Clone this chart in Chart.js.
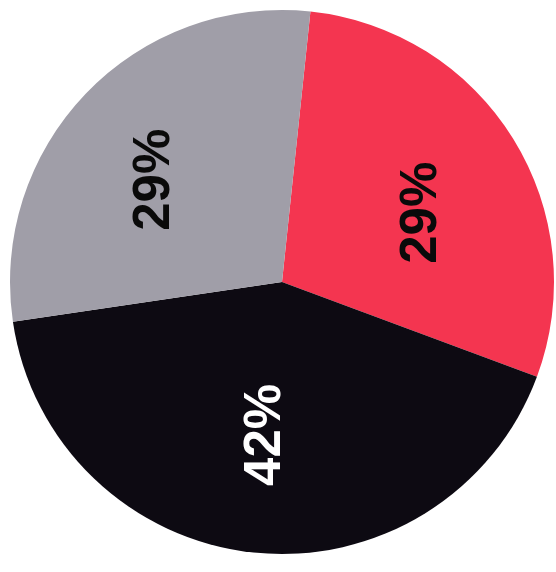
<!DOCTYPE html>
<html>
<head>
<meta charset="utf-8">
<script src="https://cdn.jsdelivr.net/npm/chart.js@4.4.1/dist/chart.umd.min.js"></script>
<style>
  body { margin: 0; background: #fff; }
  canvas { display: block; }
</style>
</head>
<body>
<canvas id="grafico" width="556" height="572"></canvas>
<script>
// dados
const categorias = ['Vermelho', 'Preto', 'Cinza'];
const valores = [29, 42, 29];
const rotulos = ['29%', '42%', '29%'];
const cores = ['#f43550', '#0d0a12', '#a09ea8'];
const coresTexto = ['#0a0a0a', '#ffffff', '#0a0a0a'];

// posição dos rótulos: fração do raio e desvio do ângulo (graus)
const raioRotulo = [0.575, 0.565, 0.6];
const desvioRotulo = [5.5, 0, -5];

// desenha os rótulos girados 90° dentro de cada fatia
const pluginRotulos = {
    id: 'rotulos',
    afterDatasetsDraw(chart) {
        const ctx = chart.ctx;
        const meta = chart.getDatasetMeta(0);
        meta.data.forEach((arco, i) => {
            const meio = (arco.startAngle + arco.endAngle) / 2 + desvioRotulo[i] * Math.PI / 180;
            const r = arco.outerRadius * raioRotulo[i];
            const x = arco.x + Math.cos(meio) * r;
            const y = arco.y + Math.sin(meio) * r;
            ctx.save();
            ctx.translate(x, y);
            ctx.rotate(-Math.PI / 2);
            ctx.font = 'bold 51px "Liberation Sans", Arial, sans-serif';
            ctx.fillStyle = coresTexto[i];
            ctx.textAlign = 'center';
            ctx.textBaseline = 'middle';
            ctx.fillText(rotulos[i], 0, 0);
            ctx.restore();
        });
    }
};

new Chart(document.getElementById('grafico').getContext('2d'), {
    type: 'pie',
    data: {
        labels: categorias,
        datasets: [{
            data: valores,
            backgroundColor: cores,
            borderWidth: 0
        }]
    },
    options: {
        responsive: false,
        animation: false,
        rotation: 6,
        layout: { padding: { left: 10, top: 10, right: 2, bottom: 18 } },
        plugins: {
            legend: { display: false },
            tooltip: { enabled: false }
        }
    },
    plugins: [pluginRotulos]
});
</script>
</body>
</html>
